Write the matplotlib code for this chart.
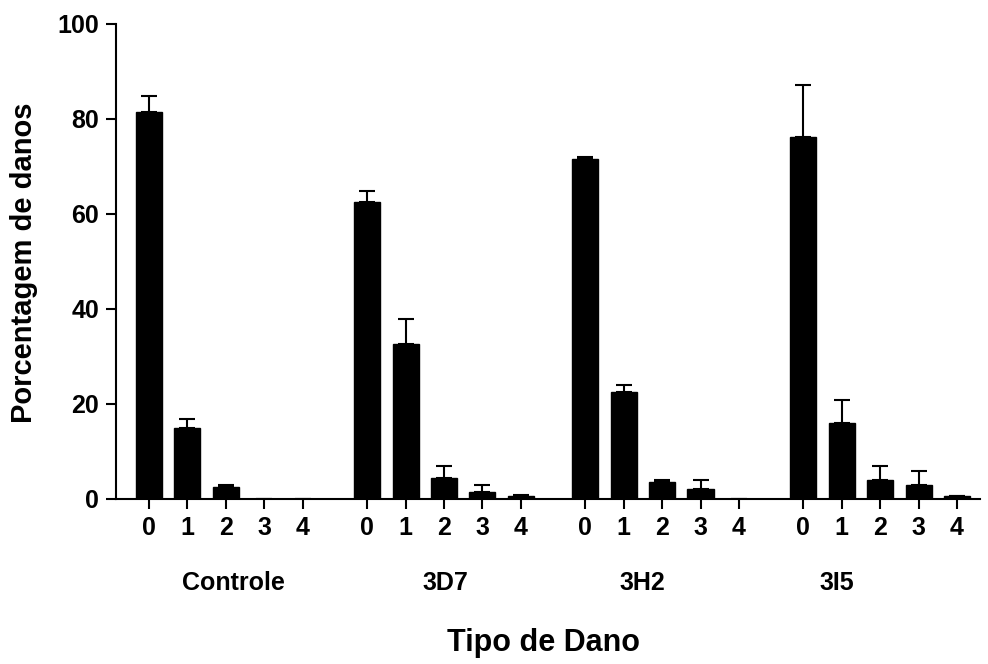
import numpy as np
import matplotlib.pyplot as plt
import matplotlib.transforms as mtransforms

plt.rcParams['font.family'] = ['Liberation Sans', 'DejaVu Sans']
plt.rcParams['font.weight'] = 'bold'

groups = ['Controle', '3D7', '3H2', '3I5']
damage_types = ['0', '1', '2', '3', '4']

controle = [81.4, 15.0, 2.6, 0.0, 0.0]
controle_err = [3.5, 1.8, 0.3, 0.0, 0.0]
d3d7 = [62.5, 32.6, 4.5, 1.5, 0.6]
d3d7_err = [2.3, 5.2, 2.4, 1.4, 0.3]
d3h2 = [71.5, 22.5, 3.5, 2.0, 0.0]
d3h2_err = [0.5, 1.4, 0.4, 1.9, 0.0]
d3i5 = [76.3, 16.1, 4.0, 2.9, 0.6]
d3i5_err = [10.9, 4.7, 2.9, 3.0, 0.1]

values = [controle, d3d7, d3h2, d3i5]
errors = [controle_err, d3d7_err, d3h2_err, d3i5_err]

group_step = 5.68
label_pos = [2.2, 7.71, 12.84, 17.92]

fig = plt.figure(figsize=(9.88, 6.64), dpi=100)
ax = fig.add_axes([0.1174, 0.2485, 0.8746, 0.7154])

xticks = []
xticklabels = []
for g in range(len(groups)):
    x = g * group_step + np.arange(len(damage_types))
    v = np.array(values[g])
    e = np.array(errors[g])
    ax.bar(x, v, width=0.68, color='black', edgecolor='black')
    ax.errorbar(x, v, yerr=[np.zeros_like(e), e], fmt='none', ecolor='black',
                elinewidth=1.5, capsize=5.5, capthick=1.5)
    xticks.extend(x)
    xticklabels.extend(damage_types)

ax.set_xlim(-0.86, 21.64)
ax.set_ylim(0, 100)
ax.set_yticks([0, 20, 40, 60, 80, 100])
ax.set_xticks(xticks)
ax.set_xticklabels(xticklabels)

for s in ['top', 'right']:
    ax.spines[s].set_visible(False)
for s in ['left', 'bottom']:
    ax.spines[s].set_linewidth(1.5)

ax.tick_params(axis='both', direction='out', length=7, width=1.5, labelsize=18, pad=5)

trans = mtransforms.blended_transform_factory(ax.transData, fig.transFigure)
for name, xp in zip(groups, label_pos):
    ax.text(xp, 0.122, name, transform=trans, ha='center', va='center',
            fontsize=18, fontweight='bold')

fig.text(0.55, 0.032, 'Tipo de Dano', ha='center', va='center', fontsize=22, fontweight='bold')
fig.text(0.024, 0.605, 'Porcentagem de danos', ha='center', va='center', rotation=90,
         fontsize=21, fontweight='bold')

fig.savefig('out.png', dpi=100)
